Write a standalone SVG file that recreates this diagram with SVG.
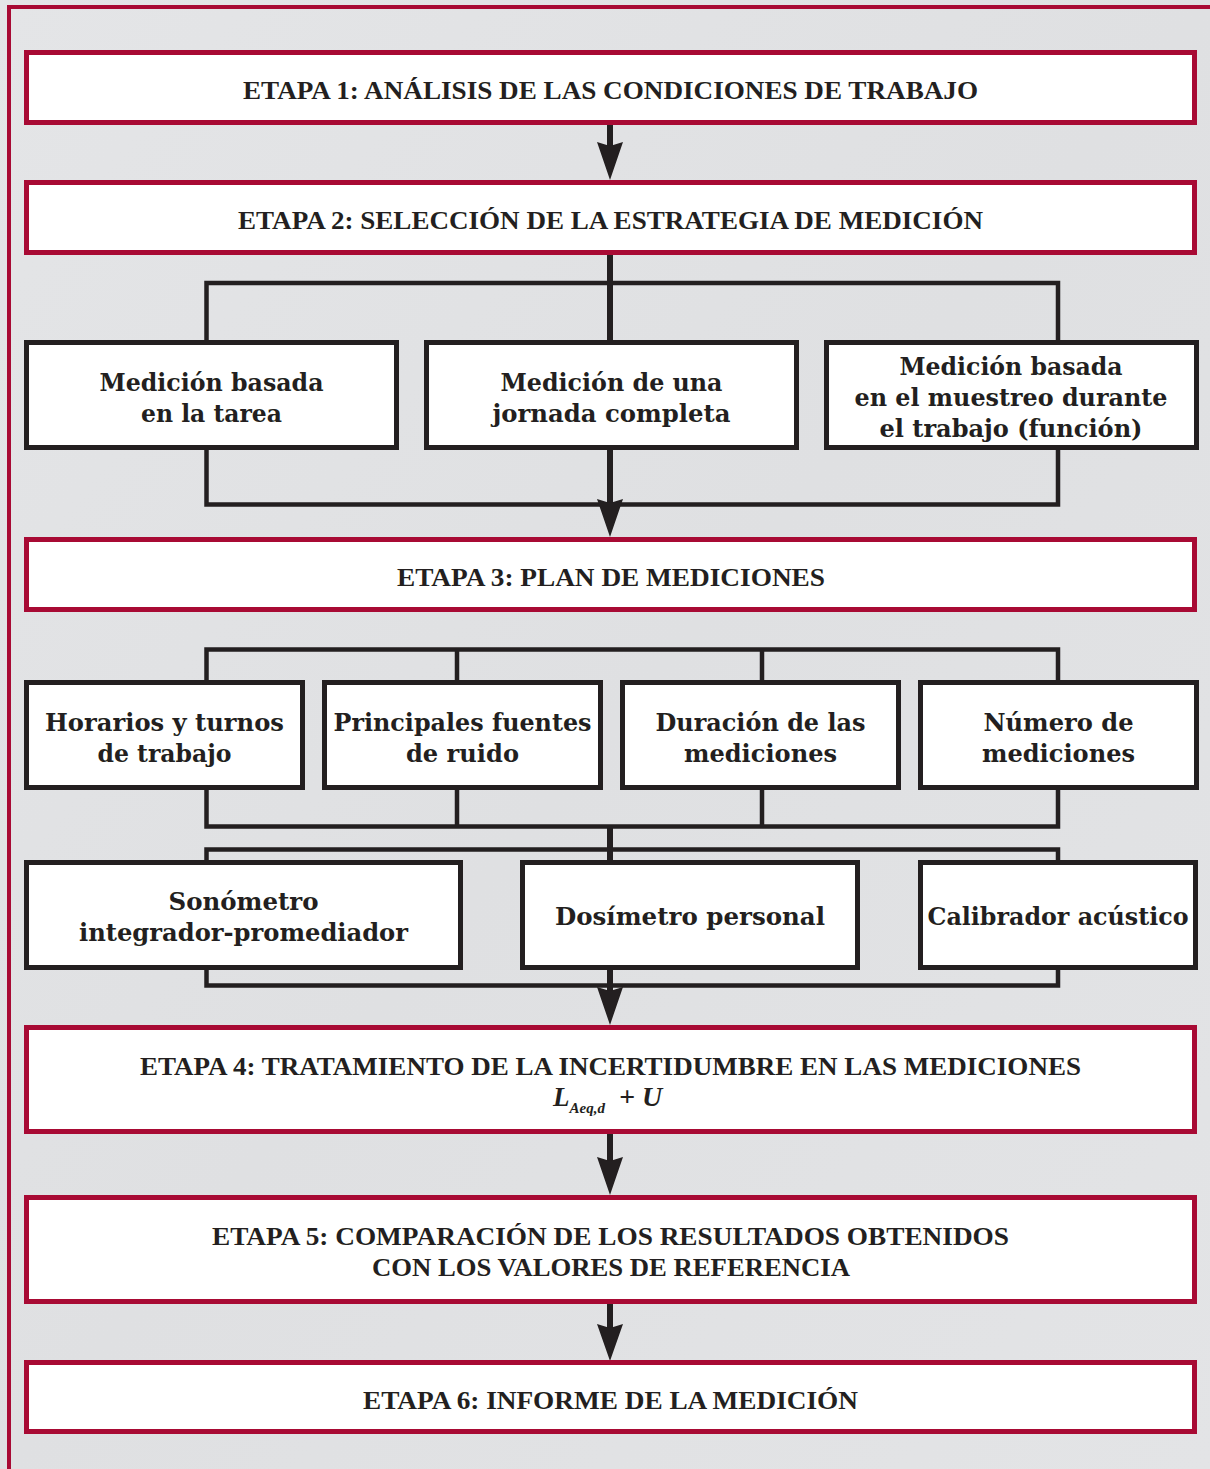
<svg xmlns="http://www.w3.org/2000/svg" width="1210" height="1469" viewBox="0 0 1210 1469">
<defs>
<linearGradient id="bg" x1="0" y1="0" x2="1" y2="1">
<stop offset="0" stop-color="#e4e5e7"/>
<stop offset="0.5" stop-color="#dfe0e2"/>
<stop offset="1" stop-color="#e3e4e6"/>
</linearGradient>
</defs>
<style>
.stage{fill:#fff;stroke:#a80a34;stroke-width:5}
.box{fill:#fff;stroke:#231f20;stroke-width:5}
.st{font-family:"Liberation Serif","Times New Roman",serif;font-weight:bold;font-size:25px;fill:#231f20;text-anchor:middle}
.bt{font-family:"DejaVu Serif","Liberation Serif",serif;font-weight:bold;font-size:24px;fill:#231f20;text-anchor:middle}
.ln{fill:none;stroke:#231f20;stroke-width:4.5;stroke-linejoin:miter}
.tr{fill:none;stroke:#231f20;stroke-width:6}
.ah{fill:#231f20}
.fr{fill:none;stroke:#a80a34;stroke-width:4}
</style>
<rect x="0" y="0" width="1210" height="1469" fill="url(#bg)"/>
<g id="frame">
<line class="fr" x1="7" y1="7" x2="1210" y2="7"/>
<line class="fr" x1="9" y1="5" x2="9" y2="1469"/>
</g>
<g id="connectors">
<line class="tr" x1="610" y1="124" x2="610" y2="146"/>
<polygon class="ah" points="597,142 610,146 623,142 610,180"/>
<line class="tr" x1="610" y1="254" x2="610" y2="342"/>
<path class="ln" d="M206.5,342 V283 H1058 V342"/>
<path class="ln" d="M206.5,448 V504.5 H1058 V448"/>
<line class="tr" x1="610" y1="447" x2="610" y2="504"/>
<polygon class="ah" points="597,499 610,503 623,499 610,537"/>
<path class="ln" d="M206.5,682 V649.5 H1058 V682"/>
<line class="ln" x1="457" y1="649.5" x2="457" y2="682"/>
<line class="ln" x1="762" y1="649.5" x2="762" y2="682"/>
<path class="ln" d="M206.5,788 V826.5 H1058 V788"/>
<line class="ln" x1="457" y1="788" x2="457" y2="826.5"/>
<line class="ln" x1="762" y1="788" x2="762" y2="826.5"/>
<line class="tr" x1="610" y1="826" x2="610" y2="862"/>
<path class="ln" d="M206.5,862 V849.5 H1058 V862"/>
<path class="ln" d="M206.5,967 V985.5 H1058 V967"/>
<line class="tr" x1="610" y1="967" x2="610" y2="992"/>
<polygon class="ah" points="597,987 610,991 623,987 610,1025"/>
<line class="tr" x1="610" y1="1132" x2="610" y2="1162"/>
<polygon class="ah" points="597,1157 610,1161 623,1157 610,1195"/>
<line class="tr" x1="610" y1="1303" x2="610" y2="1328"/>
<polygon class="ah" points="597,1324 610,1328 623,1324 610,1361"/>
</g>
<g id="etapa1">
<rect class="stage" x="26.5" y="52.5" width="1168" height="70"/>
<text class="st" x="610.5" y="99" textLength="735" lengthAdjust="spacingAndGlyphs">ETAPA 1: ANÁLISIS DE LAS CONDICIONES DE TRABAJO</text>
</g>
<g id="etapa2">
<rect class="stage" x="26.5" y="182.5" width="1168" height="70"/>
<text class="st" x="610.5" y="229" textLength="745" lengthAdjust="spacingAndGlyphs">ETAPA 2: SELECCIÓN DE LA ESTRATEGIA DE MEDICIÓN</text>
</g>
<g id="tarea">
<rect class="box" x="26.5" y="342.5" width="370" height="105"/>
<text class="bt" x="211.5" y="391" textLength="224" lengthAdjust="spacingAndGlyphs">Medición basada</text>
<text class="bt" x="211.5" y="422" textLength="141" lengthAdjust="spacingAndGlyphs">en la tarea</text>
</g>
<g id="jornada">
<rect class="box" x="426.5" y="342.5" width="370" height="105"/>
<text class="bt" x="611.5" y="391" textLength="222" lengthAdjust="spacingAndGlyphs">Medición de una</text>
<text class="bt" x="611.5" y="422" textLength="238" lengthAdjust="spacingAndGlyphs">jornada completa</text>
</g>
<g id="funcion">
<rect class="box" x="826.5" y="342.5" width="370" height="105"/>
<text class="bt" x="1011" y="375" textLength="223" lengthAdjust="spacingAndGlyphs">Medición basada</text>
<text class="bt" x="1011" y="406" textLength="313" lengthAdjust="spacingAndGlyphs">en el muestreo durante</text>
<text class="bt" x="1011" y="437" textLength="263" lengthAdjust="spacingAndGlyphs">el trabajo (función)</text>
</g>
<g id="etapa3">
<rect class="stage" x="26.5" y="539.5" width="1168" height="70"/>
<text class="st" x="611" y="586" textLength="428" lengthAdjust="spacingAndGlyphs">ETAPA 3: PLAN DE MEDICIONES</text>
</g>
<g id="horarios">
<rect class="box" x="26.5" y="682.5" width="276" height="105"/>
<text class="bt" x="164.5" y="731" textLength="239" lengthAdjust="spacingAndGlyphs">Horarios y turnos</text>
<text class="bt" x="164.5" y="762" textLength="134" lengthAdjust="spacingAndGlyphs">de trabajo</text>
</g>
<g id="fuentes">
<rect class="box" x="324.5" y="682.5" width="276" height="105"/>
<text class="bt" x="462.5" y="731" textLength="258" lengthAdjust="spacingAndGlyphs">Principales fuentes</text>
<text class="bt" x="462.5" y="762" textLength="113" lengthAdjust="spacingAndGlyphs">de ruido</text>
</g>
<g id="duracion">
<rect class="box" x="622.5" y="682.5" width="276" height="105"/>
<text class="bt" x="760.5" y="731" textLength="210" lengthAdjust="spacingAndGlyphs">Duración de las</text>
<text class="bt" x="760.5" y="762" textLength="153" lengthAdjust="spacingAndGlyphs">mediciones</text>
</g>
<g id="numero">
<rect class="box" x="920.5" y="682.5" width="276" height="105"/>
<text class="bt" x="1058.5" y="731" textLength="150" lengthAdjust="spacingAndGlyphs">Número de</text>
<text class="bt" x="1058.5" y="762" textLength="153" lengthAdjust="spacingAndGlyphs">mediciones</text>
</g>
<g id="sonometro">
<rect class="box" x="26.5" y="862.5" width="434" height="105"/>
<text class="bt" x="243.5" y="910" textLength="150" lengthAdjust="spacingAndGlyphs">Sonómetro</text>
<text class="bt" x="243.5" y="941" textLength="329" lengthAdjust="spacingAndGlyphs">integrador-promediador</text>
</g>
<g id="dosimetro">
<rect class="box" x="522.5" y="862.5" width="335" height="105"/>
<text class="bt" x="690" y="925" textLength="270" lengthAdjust="spacingAndGlyphs">Dosímetro personal</text>
</g>
<g id="calibrador">
<rect class="box" x="920.5" y="862.5" width="275" height="105"/>
<text class="bt" x="1058" y="925" textLength="261" lengthAdjust="spacingAndGlyphs">Calibrador acústico</text>
</g>
<g id="etapa4">
<rect class="stage" x="26.5" y="1027.5" width="1168" height="104"/>
<text class="st" x="610.5" y="1075" textLength="941" lengthAdjust="spacingAndGlyphs">ETAPA 4: TRATAMIENTO DE LA INCERTIDUMBRE EN LAS MEDICIONES</text>
<text x="553" y="1106" font-family="Liberation Serif,serif" font-weight="bold" font-style="italic" font-size="27" fill="#231f20">L<tspan font-size="15" dx="0" dy="7">Aeq,d</tspan><tspan dx="14" dy="-7" font-size="28">+ U</tspan></text>
</g>
<g id="etapa5">
<rect class="stage" x="26.5" y="1197.5" width="1168" height="104"/>
<text class="st" x="610.5" y="1245" textLength="797" lengthAdjust="spacingAndGlyphs">ETAPA 5: COMPARACIÓN DE LOS RESULTADOS OBTENIDOS</text>
<text class="st" x="611" y="1276" textLength="478" lengthAdjust="spacingAndGlyphs">CON LOS VALORES DE REFERENCIA</text>
</g>
<g id="etapa6">
<rect class="stage" x="26.5" y="1362.5" width="1168" height="69"/>
<text class="st" x="610.5" y="1409" textLength="495" lengthAdjust="spacingAndGlyphs">ETAPA 6: INFORME DE LA MEDICIÓN</text>
</g>
</svg>
